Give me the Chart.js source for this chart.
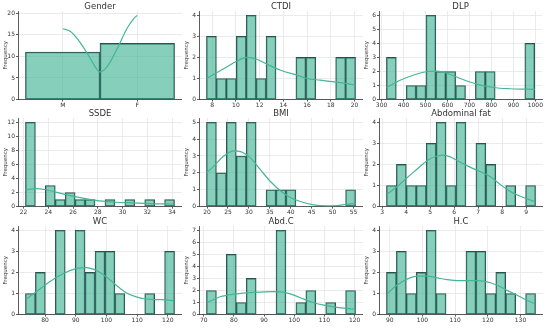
<!DOCTYPE html>
<html>
<head>
<meta charset="utf-8">
<script src="https://cdn.jsdelivr.net/npm/chart.js@4.4.1/dist/chart.umd.min.js"></script>
<style>
  body { margin: 0; background: #fff; }
  #wrap { position: relative; width: 550px; height: 328px; overflow: hidden; }
  #wrap canvas { position: absolute; }
</style>
</head>
<body>
<div id="wrap"></div>
<script>
// --- data ---
const genderLabels = ['M', 'F'];
const genderCounts = [11, 13];
const genderKdeX = [0, 0.1, 0.23, 0.36, 0.45, 0.5, 0.59, 0.72, 0.86, 0.95, 1.0];
const genderKdeY = [16.4, 15.8, 13.3, 9.8, 7.2, 6.4, 7.5, 11.4, 16.4, 18.7, 19.5];

const ctdiRange = [7.52, 20.08];
const ctdiCounts = [3, 1, 1, 3, 4, 1, 3, 0, 0, 2, 2, 0, 0, 2, 2];
const ctdiKdeX = [7.52, 9.0, 10.1, 10.95, 11.8, 12.6, 13.76, 15.2, 16.0, 17.1, 18.3, 19.4, 20.08];
const ctdiKdeY = [1.0, 1.47, 1.83, 2.0, 1.9, 1.68, 1.39, 1.15, 1.0, 0.92, 0.84, 0.76, 0.68];

const dlpRange = [322, 997];
const dlpCounts = [3, 0, 1, 1, 6, 2, 2, 1, 0, 2, 2, 0, 0, 0, 4];
const dlpKdeX = [322, 387, 447, 508, 553, 598, 658, 733, 809, 884, 959, 997];
const dlpKdeY = [0.86, 1.39, 1.75, 2.0, 2.03, 1.87, 1.5, 1.1, 0.86, 0.77, 0.74, 0.72];

const ssdeRange = [22.16, 34.2];
const ssdeCounts = [12, 0, 3, 1, 2, 1, 1, 0, 1, 0, 1, 0, 1, 0, 1];
const ssdeKdeX = [22.16, 23.0, 23.8, 24.6, 25.7, 26.8, 28.1, 29.45, 30.8, 32.1, 33.5, 34.2];
const ssdeKdeY = [2.4, 2.55, 2.4, 2.07, 1.6, 1.2, 0.82, 0.62, 0.53, 0.43, 0.38, 0.36];

const bmiRange = [19.85, 55.5];
const bmiCounts = [5, 2, 5, 3, 5, 0, 1, 1, 1, 0, 0, 0, 0, 0, 1];
const bmiKdeX = [19.85, 21.6, 24.0, 26.4, 28.0, 30.3, 32.7, 35.1, 37.5, 39.9, 42.3, 45.5, 48.6, 51.0, 53.4, 55.5];
const bmiKdeY = [2.0, 2.4, 3.0, 3.3, 3.26, 2.9, 2.2, 1.5, 0.94, 0.54, 0.3, 0.1, 0.04, 0.06, 0.14, 0.2];

const fatRange = [3.18, 9.39];
const fatCounts = [1, 2, 1, 1, 3, 4, 1, 4, 0, 3, 2, 0, 1, 0, 1];
const fatKdeX = [3.2, 3.63, 4.04, 4.46, 4.88, 5.29, 5.57, 5.85, 6.26, 6.68, 7.1, 7.51, 7.93, 8.35, 8.76, 9.32];
const fatKdeY = [0.59, 0.95, 1.37, 1.78, 2.19, 2.4, 2.44, 2.35, 2.1, 1.86, 1.65, 1.42, 1.04, 0.71, 0.49, 0.25];

const wcRange = [73.6, 122.2];
const wcCounts = [1, 2, 0, 4, 0, 4, 2, 3, 3, 1, 0, 0, 1, 0, 3];
const wcKdeX = [73.8, 77.1, 81.4, 85.8, 90.1, 93.4, 96.6, 99.9, 103.2, 106.4, 109.7, 112.9, 116.2, 119.5, 121.8];
const wcKdeY = [0.73, 1.08, 1.55, 1.94, 2.18, 2.23, 2.1, 1.79, 1.39, 1.04, 0.84, 0.74, 0.71, 0.7, 0.66];

const abdcRange = [70.9, 120.3];
const abdcCounts = [2, 0, 5, 1, 3, 0, 0, 7, 0, 1, 2, 0, 1, 0, 2];
const abdcKdeX = [71.1, 75.5, 80.0, 84.4, 88.8, 93.2, 96.5, 99.9, 103.2, 106.5, 109.8, 113.1, 116.5, 120.0];
const abdcKdeY = [1.0, 1.48, 1.7, 1.81, 1.87, 1.9, 1.84, 1.62, 1.28, 0.98, 0.78, 0.64, 0.53, 0.45];

const hcRange = [89.0, 134.6];
const hcCounts = [2, 3, 1, 2, 4, 1, 0, 0, 3, 3, 1, 2, 1, 0, 1];
const hcKdeX = [89.2, 92.2, 95.3, 98.4, 101.4, 104.5, 107.6, 110.6, 113.7, 116.7, 119.8, 122.9, 125.9, 129.0, 132.0, 134.3];
const hcKdeY = [1.0, 1.39, 1.68, 1.82, 1.82, 1.74, 1.66, 1.61, 1.61, 1.61, 1.55, 1.39, 1.15, 0.92, 0.68, 0.52];

// tick labels
const genderTicksX = [0, 1];
const genderTicksY = [0, 5, 10, 15, 20];
const ctdiTicksX = [8, 10, 12, 14, 16, 18, 20];
const ctdiTicksY = [0, 1, 2, 3, 4];
const dlpTicksX = [300, 400, 500, 600, 700, 800, 900, 1000];
const dlpTicksY = [0, 1, 2, 3, 4, 5, 6];
const ssdeTicksX = [22, 24, 26, 28, 30, 32, 34];
const ssdeTicksY = [0, 2, 4, 6, 8, 10, 12];
const bmiTicksX = [20, 25, 30, 35, 40, 45, 50, 55];
const bmiTicksY = [0, 1, 2, 3, 4, 5];
const fatTicksX = [3, 4, 5, 6, 7, 8, 9];
const fatTicksY = [0, 1, 2, 3, 4];
const wcTicksX = [80, 90, 100, 110, 120];
const wcTicksY = [0, 1, 2, 3, 4];
const abdcTicksX = [70, 80, 90, 100, 110, 120];
const abdcTicksY = [0, 1, 2, 3, 4, 5, 6, 7];
const hcTicksX = [90, 100, 110, 120, 130];
const hcTicksY = [0, 1, 2, 3, 4];

// --- drawing ---
const FONT = '"DejaVu Sans", sans-serif';
const LINE = '#45b597';
const FILL = 'rgba(69,181,151,0.65)';
const EDGE = '#2f4f4f';

const panelTitle = {
  id: 'panelTitle',
  afterDraw(chart, args, opts) {
    const { ctx, chartArea } = chart;
    ctx.save();
    ctx.font = '8.5px ' + FONT;
    ctx.fillStyle = '#333';
    ctx.textAlign = 'center';
    ctx.textBaseline = 'middle';
    ctx.fillText(opts.text, (chartArea.left + chartArea.right) / 2, chartArea.top - 4.5);
    ctx.restore();
  }
};

function makePanel(col, row, title, range, counts, kdeX, kdeY, ticksX, ticksY, yMax, xLabels) {
  const lefts = [0, 181, 361];
  const tops = [0, 107, 215];
  const canvas = document.createElement('canvas');
  canvas.width = 182;
  canvas.height = 108;
  canvas.style.left = lefts[col] + 'px';
  canvas.style.top = tops[row] + 'px';
  document.getElementById('wrap').appendChild(canvas);

  const w = (range[1] - range[0]) / counts.length;
  const bars = counts.map((c, i) => ({ x: range[0] + (i + 0.5) * w, y: c === 0 ? null : c }));
  const kde = kdeX.map((x, i) => ({ x: x, y: kdeY[i] }));
  const pad = (range[1] - range[0]) * 0.05;

  new Chart(canvas, {
    type: 'bar',
    data: {
      datasets: [
        {
          type: 'line',
          data: kde,
          borderColor: LINE,
          borderWidth: 1.2,
          pointRadius: 0,
          cubicInterpolationMode: 'monotone',
          order: 0
        },
        {
          type: 'bar',
          data: bars,
          backgroundColor: FILL,
          borderColor: EDGE,
          borderWidth: 0.9,
          borderSkipped: false,
          barPercentage: 1,
          categoryPercentage: 1,
          order: 1
        }
      ]
    },
    options: {
      responsive: false,
      animation: false,
      events: [],
      layout: { padding: { top: 11, right: 0, left: 0, bottom: 0 } },
      plugins: {
        legend: { display: false },
        tooltip: { enabled: false },
        panelTitle: { text: title }
      },
      scales: {
        x: {
          type: 'linear',
          offset: false,
          min: range[0] - pad,
          max: range[1] + pad,
          afterBuildTicks: s => { s.ticks = ticksX.map(v => ({ value: v })); },
          afterFit: s => { s.height = 8.4; },
          grid: { offset: false, color: '#e6e6e6', lineWidth: 0.8, tickColor: '#333', tickLength: 2 },
          border: { color: '#333', width: 0.8 },
          ticks: {
            font: { family: FONT, size: 6 },
            color: '#333',
            padding: 0,
            maxRotation: 0,
            autoSkip: false,
            callback: (v, i) => xLabels ? xLabels[i] : v
          }
        },
        y: {
          min: 0,
          max: yMax,
          afterBuildTicks: s => { s.ticks = ticksY.map(v => ({ value: v })); },
          afterFit: s => { s.width = 18; },
          grid: { color: '#e6e6e6', lineWidth: 0.8, tickColor: '#333', tickLength: 2 },
          border: { color: '#333', width: 0.8 },
          ticks: { font: { family: FONT, size: 6 }, color: '#333', padding: 1, autoSkip: false },
          title: { display: true, text: 'Frequency', font: { family: FONT, size: 5.5 }, color: '#333', padding: { top: 2, bottom: 0 } }
        }
      }
    },
    plugins: [panelTitle]
  });
}

makePanel(0, 0, 'Gender', [-0.5, 1.5], genderCounts, genderKdeX, genderKdeY, genderTicksX, genderTicksY, 20.5, genderLabels);
makePanel(1, 0, 'CTDI', ctdiRange, ctdiCounts, ctdiKdeX, ctdiKdeY, ctdiTicksX, ctdiTicksY, 4.2);
makePanel(2, 0, 'DLP', dlpRange, dlpCounts, dlpKdeX, dlpKdeY, dlpTicksX, dlpTicksY, 6.3);
makePanel(0, 1, 'SSDE', ssdeRange, ssdeCounts, ssdeKdeX, ssdeKdeY, ssdeTicksX, ssdeTicksY, 12.6);
makePanel(1, 1, 'BMI', bmiRange, bmiCounts, bmiKdeX, bmiKdeY, bmiTicksX, bmiTicksY, 5.25);
makePanel(2, 1, 'Abdominal fat', fatRange, fatCounts, fatKdeX, fatKdeY, fatTicksX, fatTicksY, 4.2);
makePanel(0, 2, 'WC', wcRange, wcCounts, wcKdeX, wcKdeY, wcTicksX, wcTicksY, 4.2);
makePanel(1, 2, 'Abd.C', abdcRange, abdcCounts, abdcKdeX, abdcKdeY, abdcTicksX, abdcTicksY, 7.35);
makePanel(2, 2, 'H.C', hcRange, hcCounts, hcKdeX, hcKdeY, hcTicksX, hcTicksY, 4.2);
</script>
</body>
</html>
